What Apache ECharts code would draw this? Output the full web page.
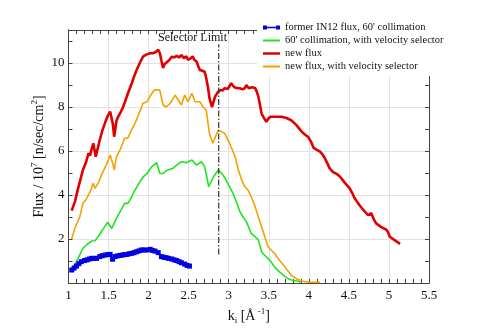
<!DOCTYPE html>
<html>
<head>
<meta charset="utf-8">
<script src="https://cdn.jsdelivr.net/npm/echarts@6/dist/echarts.min.js"></script>
<style>html,body{margin:0;padding:0;background:#fff}#c{width:500px;height:333px}</style>
</head>
<body>
<div id="c"></div>
<script>
// ---- data ----
const seriesNames = ["former IN12 flux, 60' collimation", "60' collimation, with velocity selector", "new flux", "new flux, with velocity selector"];

const blueK = [1.04,1.07,1.10,1.13,1.16,1.20,1.23,1.26,1.29,1.32,1.35,1.39,1.42,1.455,1.49,1.52,1.55,1.58,1.61,1.64,1.67,1.70,1.73,1.76,1.79,1.82,1.85,1.88,1.91,1.94,1.98,2.02,2.05,2.08,2.12,2.16,2.19,2.22,2.25,2.29,2.32,2.35,2.38,2.41,2.45,2.48,2.51];
const blueFlux = [0.59,0.68,0.77,0.88,0.97,1.02,1.05,1.09,1.12,1.12,1.12,1.2,1.24,1.27,1.29,1.3,1.08,1.2,1.23,1.25,1.27,1.29,1.3,1.33,1.35,1.38,1.42,1.46,1.5,1.5,1.5,1.53,1.48,1.45,1.38,1.2,1.17,1.15,1.12,1.09,1.05,1.02,0.97,0.92,0.86,0.8,0.77];

const greenK = [1.03,1.08,1.12,1.18,1.23,1.29,1.33,1.37,1.41,1.45,1.49,1.54,1.58,1.62,1.66,1.70,1.74,1.78,1.81,1.85,1.89,1.94,1.98,2.04,2.10,2.14,2.18,2.24,2.30,2.35,2.41,2.47,2.54,2.60,2.66,2.70,2.75,2.81,2.87,2.93,2.97,3.01,3.05,3.09,3.14,3.18,3.22,3.28,3.33,3.37,3.41,3.45,3.49,3.53,3.57,3.62,3.68,3.73,3.78,3.85,3.90];
const greenFlux = [0.59,0.85,1.12,1.58,1.75,1.91,1.92,2.1,2.33,2.55,2.76,2.48,2.8,3.09,3.35,3.62,3.62,3.85,4.08,4.35,4.6,4.85,4.98,5.29,5.47,4.98,4.98,5.14,5.2,5.36,5.51,5.47,5.59,5.36,5.51,5.29,4.38,4.83,5.14,4.91,4.65,4.38,4.1,3.75,3.24,3.0,2.79,2.26,2.1,1.95,1.42,1.25,1.12,0.95,0.74,0.55,0.36,0.22,0.14,0.09,0.05];

const redK = [1.04,1.08,1.12,1.18,1.22,1.25,1.27,1.29,1.31,1.34,1.37,1.39,1.42,1.455,1.49,1.52,1.54,1.555,1.57,1.60,1.62,1.64,1.67,1.70,1.74,1.79,1.82,1.85,1.89,1.93,1.97,2.02,2.06,2.09,2.12,2.14,2.16,2.18,2.20,2.22,2.25,2.29,2.32,2.35,2.38,2.41,2.44,2.47,2.49,2.52,2.55,2.57,2.60,2.62,2.64,2.67,2.70,2.72,2.74,2.76,2.79,2.81,2.83,2.86,2.89,2.92,2.95,2.99,3.03,3.07,3.11,3.14,3.17,3.20,3.22,3.25,3.29,3.33,3.35,3.37,3.39,3.41,3.44,3.47,3.50,3.53,3.60,3.66,3.72,3.78,3.84,3.91,3.95,3.99,4.03,4.06,4.10,4.14,4.17,4.20,4.23,4.26,4.30,4.35,4.39,4.45,4.51,4.54,4.57,4.60,4.64,4.68,4.71,4.74,4.78,4.81,4.84,4.90,4.97,4.99,5.01,5.07,5.13,5.14];
const redFlux = [3.29,3.7,4.3,5.14,5.5,5.9,5.8,6.1,6.35,5.74,6.2,6.5,6.9,7.27,7.6,7.79,7.75,7.2,6.65,7.4,7.55,7.56,7.9,8.18,8.6,9.08,9.4,9.68,10.0,10.29,10.38,10.44,10.45,10.5,10.6,10.45,10.1,9.77,9.95,9.9,10.1,10.29,10.25,10.32,10.25,10.36,10.22,10.3,10.15,10.2,10.3,10.15,10.06,9.85,9.68,9.65,9.6,9.3,8.92,8.4,8.0,8.05,8.47,8.65,8.77,8.75,8.85,8.82,9.08,8.9,8.85,8.85,8.8,8.85,9.0,8.85,8.9,8.86,8.7,8.47,8.1,7.7,7.5,7.33,7.5,7.56,7.56,7.56,7.5,7.4,7.2,6.88,6.75,6.65,6.4,6.14,6.05,5.97,5.85,5.67,5.45,5.21,5.05,4.95,4.83,4.55,4.3,4.1,3.86,3.7,3.5,3.32,3.2,3.09,3.17,2.9,2.71,2.55,2.41,2.3,2.1,1.95,1.8,1.78];

const orangeK = [1.04,1.08,1.14,1.18,1.22,1.27,1.31,1.33,1.35,1.38,1.41,1.45,1.48,1.52,1.54,1.555,1.57,1.60,1.65,1.70,1.74,1.78,1.83,1.88,1.93,1.98,2.02,2.07,2.11,2.14,2.18,2.22,2.27,2.33,2.37,2.41,2.45,2.49,2.54,2.58,2.64,2.68,2.72,2.74,2.76,2.80,2.84,2.87,2.91,2.95,3.01,3.08,3.12,3.16,3.20,3.24,3.29,3.33,3.37,3.41,3.45,3.49,3.53,3.57,3.63,3.70,3.74,3.78,3.85,3.91,4.00,4.14];
const orangeFlux = [2.0,2.5,3.0,3.62,3.8,4.15,4.54,4.3,4.23,4.6,4.9,5.2,5.44,5.82,5.74,5.4,5.14,5.74,6.1,6.58,6.58,6.9,7.26,7.7,8.17,8.24,8.5,8.77,8.78,8.77,8.09,8.0,8.17,8.54,8.32,8.09,8.54,8.24,8.62,8.24,8.24,8.0,7.86,7.3,6.8,6.35,6.7,6.95,6.88,6.8,6.35,5.74,5.14,4.7,4.38,4.23,3.85,3.47,3.0,2.56,2.1,1.65,1.5,1.35,1.05,0.74,0.55,0.36,0.18,0.09,0.04,0.03];

const selectorK = [2.875, 2.875];
const selectorFlux = [1.3, 10.85];
const selectorLabel = 'Selector Limit';

const xTicks = {min: 1, max: 5.5, step: 0.5};
const yTicks = {min: 0, max: 11.5, step: 2};

// ---- chart ----
const zip = (a, b) => a.map((v, i) => [v, b[i]]);
const FONT = 'Liberation Serif';
const chart = echarts.init(document.getElementById('c'), null, {renderer: 'canvas'});

const lineIcon = 'path://M0,0h0.01v0.01h-0.01z M0,4.1h17v1.8h-17z M16.99,9.99h0.01v0.01h-0.01z';
const thickLineIcon = 'path://M0,0h0.01v0.01h-0.01z M0,3.7h17v2.6h-17z M16.99,9.99h0.01v0.01h-0.01z';
const squareLineIcon = 'path://M0,0h0.01v0.01h-0.01z M0,3h4v4h-4z M4,4.25h9v1.5h-9z M13,3h4v4h-4z M16.99,9.99h0.01v0.01h-0.01z';

const axisLineStyle = {color: '#444', width: 1};
const baseX = {
  type: 'value', min: xTicks.min, max: xTicks.max, interval: xTicks.step,
  axisLine: {show: true, onZero: false, lineStyle: axisLineStyle},
  axisTick: {show: true, inside: true, length: 4, lineStyle: {color: '#444'}},
  minorTick: {show: true, splitNumber: 5, length: 4, lineStyle: {color: '#444'}},
  minorSplitLine: {show: false}
};
const baseY = {
  type: 'value', min: yTicks.min, max: yTicks.max,
  axisLine: {show: true, onZero: false, lineStyle: axisLineStyle}
};

chart.setOption({
  animation: false,
  backgroundColor: '#fff',
  grid: {left: 68.5, right: 71, top: 30, bottom: 50},
  xAxis: [
    Object.assign({}, baseX, {
      position: 'bottom',
      splitLine: {show: true, lineStyle: {color: '#e2e2e2', width: 1}},
      axisLabel: {fontFamily: FONT, fontSize: 13, color: '#111', margin: 6},
      name: '{a|k}{sub|i}{a| [Å}{sup| -1}{a|]}',
      nameLocation: 'middle', nameGap: 16,
      nameTextStyle: {fontFamily: FONT, fontSize: 14, color: '#111',
        rich: {a: {fontFamily: FONT, fontSize: 14, color: '#111', lineHeight: 18},
               sub: {fontFamily: FONT, fontSize: 9, color: '#111', verticalAlign: 'bottom', lineHeight: 18},
               sup: {fontFamily: FONT, fontSize: 9, color: '#111', verticalAlign: 'top', lineHeight: 18}}}
    }),
    Object.assign({}, baseX, {
      position: 'top', splitLine: {show: false}, axisLabel: {show: false}
    })
  ],
  yAxis: [
    Object.assign({}, baseY, {
      position: 'left', interval: yTicks.step,
      axisTick: {show: false},
      splitLine: {show: true, lineStyle: {color: '#e2e2e2', width: 1}},
      axisLabel: {fontFamily: FONT, fontSize: 13, color: '#111', margin: 4,
        formatter: v => (v > 0 && Math.abs(v % 2) < 1e-9) ? String(v) : ''},
      name: '{a|Flux / 10}{sup|7}{a| [n/sec/cm}{sup|2}{a|]}',
      nameLocation: 'middle', nameGap: 20, nameMoveOverlap: false,
      nameTextStyle: {fontFamily: FONT, fontSize: 14, color: '#111',
        rich: {a: {fontFamily: FONT, fontSize: 14, color: '#111', lineHeight: 18},
               sup: {fontFamily: FONT, fontSize: 9, color: '#111', verticalAlign: 'top', lineHeight: 18}}}
    }),
    Object.assign({}, baseY, {
      position: 'left', interval: 1,
      axisTick: {show: true, inside: true, length: 4, lineStyle: {color: '#444'}},
      splitLine: {show: false}, axisLabel: {show: false}
    }),
    Object.assign({}, baseY, {
      position: 'right', interval: 1,
      axisTick: {show: true, inside: true, length: 4, lineStyle: {color: '#444'}},
      splitLine: {show: false}, axisLabel: {show: false}
    })
  ],
  legend: {
    data: [
      {name: seriesNames[0], icon: squareLineIcon},
      {name: seriesNames[1], icon: lineIcon},
      {name: seriesNames[2], icon: thickLineIcon},
      {name: seriesNames[3], icon: lineIcon}
    ],
    orient: 'vertical', left: 257, top: 20,
    padding: [2, 6, 4, 6], itemGap: 2, itemWidth: 17, itemHeight: 10,
    backgroundColor: '#fff',
    textStyle: {fontFamily: FONT, fontSize: 10.5, color: '#111'}
  },
  graphic: [{
    type: 'text', x: 192.5, y: 32, z: 100,
    style: {text: selectorLabel, font: '12px "Liberation Serif"', fill: '#111',
      align: 'center', verticalAlign: 'top'}
  }],
  series: [
    {name: seriesNames[1], type: 'line', data: zip(greenK, greenFlux), showSymbol: false, symbol: 'none',
     lineStyle: {color: '#1ee61e', width: 1.6}, itemStyle: {color: '#1ee61e'}},
    {name: seriesNames[3], type: 'line', data: zip(orangeK, orangeFlux), showSymbol: false, symbol: 'none',
     lineStyle: {color: '#f5a100', width: 1.6}, itemStyle: {color: '#f5a100'}},
    {name: seriesNames[2], type: 'line', data: zip(redK, redFlux), showSymbol: false, symbol: 'none',
     lineStyle: {color: '#e00000', width: 2.6}, itemStyle: {color: '#e00000'}},
    {name: seriesNames[0], type: 'line', data: zip(blueK, blueFlux), symbol: 'rect', symbolSize: 5,
     lineStyle: {color: '#0000e0', width: 2}, itemStyle: {color: '#0000e0'}},
    {name: 'selector', type: 'line', data: zip(selectorK, selectorFlux), symbol: 'none',
     lineStyle: {color: '#333', width: 1.2, type: [6, 2, 1.5, 2]}, z: 5}
  ]
});
</script>
</body>
</html>
